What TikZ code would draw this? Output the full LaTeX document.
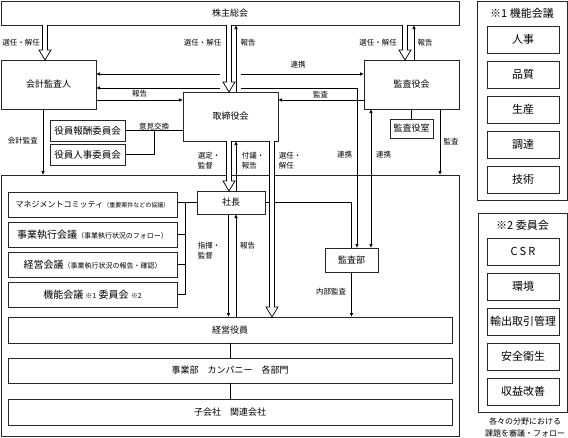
\documentclass[tikz,border=0pt]{standalone}
\usepackage{fontspec}
\setmainfont{Noto Sans CJK JP}
\usetikzlibrary{
  arrows.meta,
  calc,
  positioning,
}

% vertical hollow double arrow, #1 start, #2 tip
\newcommand{\hollowarrow}[2]{%
  \draw[fill=white] ($(#1)+(-2.5,0)$) -- ($(#2)+(-2.5,-10)$) -- ($(#2)+(-6,-10)$)
    -- (#2) -- ($(#2)+(6,-10)$) -- ($(#2)+(2.5,-10)$) -- ($(#1)+(2.5,0)$);
}

\begin{document}
\begin{tikzpicture}[x=1pt,y=-1pt,>={Latex[length=4pt,width=3.5pt]},
      line width=0.7pt,
      box/.style={
        draw=black!85,
        line width=0.8pt,
        inner sep=1pt,
        outer sep=0pt,
        font=\fontsize{9}{11}\selectfont
      },
      lbl/.style={inner sep=0pt, align=left, font=\fontsize{7.5}{10}\selectfont},
      mcbox/.style={box, minimum width=169pt, minimum height=25pt, font=\fontsize{10}{12}\selectfont},
      panelbox/.style={box, minimum width=72pt, minimum height=27pt, font=\fontsize{11}{13}\selectfont},
      title/.style={inner sep=0pt, font=\fontsize{11}{13}\selectfont}
    ]
      \useasboundingbox (0,0) rectangle (568,437);

      % top level
      \node[box, minimum width=458pt, minimum height=24pt] (kabu) at (230,13) {株主総会};
      \node[box, minimum width=95pt, minimum height=49pt] (kaikei) at (48.5,84.5) {会計監査人};
      \node[box, minimum width=95pt, minimum height=49pt] (torishimari) at (230.5,116.5) {取締役会};
      \node[box, minimum width=95pt, minimum height=49pt] (kansayaku) at (411.5,84.5) {監査役会};
      \node[box, minimum width=43pt, minimum height=19pt] (kansashitsu) at (411.5,128.5) {監査役室};
      \node[box, minimum width=75pt, minimum height=21pt, font=\fontsize{9.5}{11}\selectfont] (hoshu) at (87.5,130.5) {役員報酬委員会};
      \node[box, minimum width=75pt, minimum height=21pt, font=\fontsize{9.5}{11}\selectfont] (jinji) at (87.5,154.5) {役員人事委員会};

      % company
      \node[box, minimum width=458pt, minimum height=261pt] (kaisha) at (230,305.5) {};
      \node[box, minimum width=68pt, minimum height=23pt] (shacho) at (231,202.5) {社長};
      \node[mcbox] (mc1) at (92.5,204.5) {{\fontsize{8}{10}\selectfont マネジメントコミッティ}{\fontsize{6}{8}\selectfont （重要案件などの協議）}};
      \node[mcbox, below=5pt of mc1] (mc2) {事業執行会議{\fontsize{7}{8}\selectfont （事業執行状況のフォロー）}};
      \node[mcbox, below=5pt of mc2] (mc3) {経営会議{\fontsize{7}{8}\selectfont （事業執行状況の報告・確認）}};
      \node[mcbox, below=5pt of mc3] (mc4) {機能会議 {\fontsize{7}{8}\selectfont ※1} 委員会 {\fontsize{7}{8}\selectfont ※2}};
      \node[box, minimum width=53pt, minimum height=24pt] (kansabu) at (351.5,260) {監査部};
      \node[box, minimum width=444pt, minimum height=26pt] (keiei) at (230,330) {経営役員};
      \node[box, minimum width=444pt, minimum height=25pt, below=15pt of keiei] (jigyobu) {事業部　カンパニー　各部門};
      \node[box, minimum width=444pt, minimum height=26pt, below=16pt of jigyobu] (kogaisha) {子会社　関連会社};

      % side panels
      \node[box, minimum width=90pt, minimum height=199pt] (kino) at (522,100.5) {};
      \node[title] (kinotitle) at (522,13) {※1 機能会議};
      \node[panelbox] (k1) at (523,39.5) {人事};
      \node[panelbox, below=8pt of k1] (k2) {品質};
      \node[panelbox, below=8pt of k2] (k3) {生産};
      \node[panelbox, below=8pt of k3] (k4) {調達};
      \node[panelbox, below=8pt of k4] (k5) {技術};

      \node[box, minimum width=89pt, minimum height=199pt] (iinkai) at (522.5,312.5) {};
      \node[title] (iinkaititle) at (522.5,225) {※2 委員会};
      \node[panelbox] (i1) at (523,251.5) {C\hspace{2pt}S\hspace{2pt}R};
      \node[panelbox, below=8pt of i1] (i2) {環境};
      \node[panelbox, below=8pt of i2] (i3) {輸出取引管理};
      \node[panelbox, below=8pt of i3] (i4) {安全衛生};
      \node[panelbox, below=8pt of i4] (i5) {収益改善};
      \node[lbl, align=center, font=\fontsize{8}{11.5}\selectfont] (note) at (525,427.5) {各々の分野における\\課題を審議・フォロー};

      % labels
      \node[lbl] (l-sennin1) at (21,43) {選任・解任};
      \node[lbl] (l-sennin2) at (202.5,43) {選任・解任};
      \node[lbl] (l-hokoku1) at (248,43) {報告};
      \node[lbl] (l-sennin3) at (378,43) {選任・解任};
      \node[lbl] (l-hokoku2) at (425,43) {報告};
      \node[lbl] (l-renkei1) at (298,65) {連携};
      \node[lbl] (l-hokoku3) at (139.5,94) {報告};
      \node[lbl] (l-kansa1) at (320.5,95) {監査};
      \node[lbl, anchor=south] (iken) at ($(hoshu.east)!0.5!(hoshu.east -| torishimari.west)$) {意見交換};
      \node[lbl] (l-kaikeikansa) at (23,141) {会計監査};
      \node[lbl] (l-kansa2) at (451,142) {監査};
      \node[lbl] (l-sentei) at (209,160.5) {選定・\\監督};
      \node[lbl] (l-fugi) at (253,160.5) {付議・\\報告};
      \node[lbl] (l-sennin4) at (290,160.5) {選任・\\解任};
      \node[lbl] (l-renkei2) at (344.5,155) {連携};
      \node[lbl] (l-renkei3) at (383.5,155) {連携};
      \node[lbl] (l-shiki) at (209,251) {指揮・\\監督};
      \node[lbl] (l-hokoku4) at (247.5,246) {報告};
      \node[lbl] (l-naibu) at (331,292) {内部監査};

      % connectors
      \coordinate (gapL) at ([xshift=-10.5pt]torishimari.north);
      \coordinate (gapR) at ([xshift=10.5pt]torishimari.north);
      \draw[<-] ([yshift=10.5pt]kaikei.east) -- ([yshift=10.5pt]kaikei.east -| gapL);
      \draw[->] ([yshift=10.5pt]kaikei.east -| gapR) -- ([yshift=10.5pt]kansayaku.west);
      \draw[<-] ([yshift=-3.5pt]kaikei.east) -- ([yshift=-3.5pt]kaikei.east -| gapL);
      \draw[->] ([yshift=-3.5pt]kaikei.east -| gapR) -| ([xshift=5.5pt]kansabu.north);
      \draw[->] ([yshift=-15.5pt]kaikei.east) -- ([yshift=-15.5pt]kaikei.east -| torishimari.west);
      \draw[->] ([yshift=-15.5pt]kansayaku.west) -- ([yshift=-15.5pt]kansayaku.west -| torishimari.east);
      \draw (hoshu.east) -- (hoshu.east -| torishimari.west);
      \draw (jinji.east) -| (iken.south);
      \draw[->] ([xshift=5.5pt]torishimari.north) -- ([xshift=5.5pt]torishimari.north |- kabu.south);
      \draw[->] ([xshift=2.5pt]kansayaku.north) -- ([xshift=2.5pt]kansayaku.north |- kabu.south);
      \draw[->] ([xshift=-5.5pt]kaikei.south) -- ([xshift=-5.5pt]kaikei.south |- kaisha.north);
      \draw[->] ([xshift=28.5pt]kansayaku.south) -- ([xshift=28.5pt]kansayaku.south |- kaisha.north);
      \draw (kansayaku) -- (kansashitsu);
      \draw[<->] ([xshift=19.5pt]kansabu.north |- kansayaku.south) -- ([xshift=19.5pt]kansabu.north);
      \draw[->] ([xshift=5pt]shacho.north) -- ([xshift=5pt]shacho.north |- torishimari.south);
      \draw[->] ([xshift=-2.5pt]shacho.south) -- ([xshift=-2.5pt]shacho.south |- keiei.north);
      \draw[->] ([xshift=5pt]shacho.south |- keiei.north) -- ([xshift=5pt]shacho.south);
      \draw (shacho.east) -| (kansabu.north);
      \draw[->] (kansabu.south) -- (kansabu.south |- keiei.north);
      \draw (mc1.east |- shacho.west) -- (shacho.west);
      \draw (mc4.east) -- ++(8,0) |- (shacho.west);
      \foreach \m in {mc2,mc3} \draw (\m.east) -- ++(8,0);
      \draw (keiei) -- (jigyobu);
      \draw (jigyobu) -- (kogaisha);

      % hollow arrows on top
      \hollowarrow{[xshift=-3.5pt]kaikei.north |- kabu.south}{[xshift=-3.5pt]kaikei.north}
      \hollowarrow{[xshift=-1.5pt]torishimari.north |- kabu.south}{[xshift=-1.5pt]torishimari.north}
      \hollowarrow{[xshift=-6.5pt]kansayaku.north |- kabu.south}{[xshift=-6.5pt]kansayaku.north}
      \hollowarrow{[xshift=-1.5pt]torishimari.south}{[xshift=-1.5pt]torishimari.south |- shacho.north}
      \hollowarrow{[xshift=41.5pt]torishimari.south}{[xshift=41.5pt]torishimari.south |- keiei.north}
    \end{tikzpicture}
\end{document}
